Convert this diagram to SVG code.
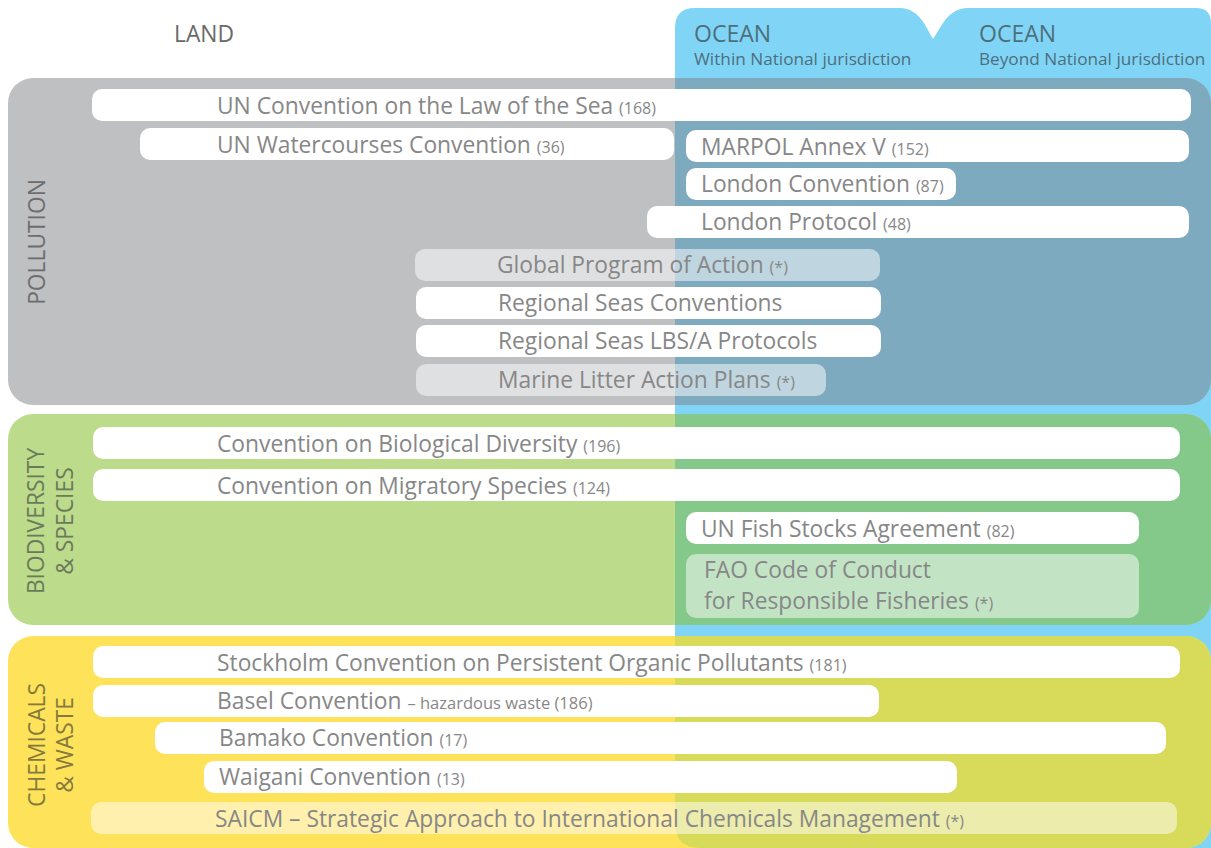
<svg xmlns="http://www.w3.org/2000/svg" width="1211" height="848" viewBox="0 0 1211 848">
<defs>
<style>
text{font-family:"Open Sans","Liberation Sans",sans-serif}
.t{font-size:22.8px;fill:#878787}
.s{font-size:16px;fill:#878787}
.w{fill:#ffffff}
.h{fill:#ffffff;fill-opacity:0.5}
.hd{font-size:23px;fill:#4d6f7d}
.sub{font-size:17.2px;fill:#4d6f7d}
.v{font-size:22.8px}
</style>
<clipPath id="oc"><path d="M675 28 Q675 8 695 8 L900 8 Q914 8 924 23 L933 39 L943 23 Q953 8 968 8 L1196 8 Q1211 8 1211 23 L1211 848 L700 848 Q675 848 675 823 Z"/></clipPath>
</defs>
<rect width="1211" height="848" fill="#ffffff"/>
<g id="ocean">
<path d="M675 28 Q675 8 695 8 L900 8 Q914 8 924 23 L933 39 L943 23 Q953 8 968 8 L1196 8 Q1211 8 1211 23 L1211 848 L700 848 Q675 848 675 823 Z" fill="#80d5f6"/>
<text class="hd" x="694" y="42">OCEAN</text>
<text class="sub" x="694" y="65">Within National jurisdiction</text>
<text class="hd" x="979" y="42">OCEAN</text>
<text class="sub" x="979" y="65">Beyond National jurisdiction</text>
</g>
<g id="land">
<text x="174" y="42" style="font-size:22.8px;fill:#6a6a6a">LAND</text>
</g>
<g id="pollution">
<rect x="8" y="78" width="1203" height="327" rx="25" fill="#bfc0c2"/>
<rect x="8" y="78" width="1203" height="327" rx="25" fill="#7eaabf" clip-path="url(#oc)"/>
<text class="v" transform="translate(45 242) rotate(-90)" text-anchor="middle" fill="#6d6d6d">POLLUTION</text>
</g>
<g id="biodiversity">
<rect x="8" y="414" width="1203" height="211" rx="25" fill="#bcdc8c"/>
<rect x="8" y="414" width="1203" height="211" rx="25" fill="#85c98a" clip-path="url(#oc)"/>
<text class="v" transform="translate(44 521) rotate(-90)" text-anchor="middle" fill="#6b7a5a">BIODIVERSITY</text>
<text class="v" transform="translate(73 521) rotate(-90)" text-anchor="middle" fill="#6b7a5a">&amp; SPECIES</text>
</g>
<g id="chemicals">
<rect x="8" y="636" width="1203" height="212" rx="25" fill="#fee35a"/>
<rect x="8" y="636" width="1203" height="212" rx="25" fill="#d8db5a" clip-path="url(#oc)"/>
<text class="v" transform="translate(45 745) rotate(-90)" text-anchor="middle" fill="#857a3c">CHEMICALS</text>
<text class="v" transform="translate(73 745) rotate(-90)" text-anchor="middle" fill="#857a3c">&amp; WASTE</text>
</g>
<g id="unclos"><rect class="w" x="92" y="89" width="1099" height="32" rx="10"/><text class="t" x="217" y="114">UN Convention on the Law of the Sea <tspan class="s">(168)</tspan></text></g>
<g id="watercourses"><rect class="w" x="140" y="128" width="534" height="32" rx="10"/><text class="t" x="217" y="153">UN Watercourses Convention <tspan class="s">(36)</tspan></text></g>
<g id="marpol"><rect class="w" x="686" y="130" width="503" height="32" rx="10"/><text class="t" x="701" y="155">MARPOL Annex V <tspan class="s">(152)</tspan></text></g>
<g id="london-convention"><rect class="w" x="686" y="168" width="270" height="32" rx="10"/><text class="t" x="701" y="192">London Convention <tspan class="s">(87)</tspan></text></g>
<g id="london-protocol"><rect class="w" x="647" y="206" width="542" height="32" rx="10"/><text class="t" x="701" y="230">London Protocol <tspan class="s">(48)</tspan></text></g>
<g id="gpa"><rect class="h" x="415" y="249" width="465" height="32" rx="10"/><text class="t" x="497" y="273">Global Program of Action <tspan class="s">(*)</tspan></text></g>
<g id="regional-seas"><rect class="w" x="416" y="287" width="465" height="32" rx="10"/><text class="t" x="498" y="311">Regional Seas Conventions</text></g>
<g id="lbs-protocols"><rect class="w" x="416" y="325" width="465" height="32" rx="10"/><text class="t" x="498" y="349">Regional Seas LBS/A Protocols</text></g>
<g id="marine-litter"><rect class="h" x="416" y="364" width="410" height="32" rx="10"/><text class="t" x="498" y="388">Marine Litter Action Plans <tspan class="s">(*)</tspan></text></g>
<g id="cbd"><rect class="w" x="93" y="427" width="1087" height="32" rx="10"/><text class="t" x="217" y="452">Convention on Biological Diversity <tspan class="s">(196)</tspan></text></g>
<g id="cms"><rect class="w" x="93" y="469" width="1087" height="32" rx="10"/><text class="t" x="217" y="494">Convention on Migratory Species <tspan class="s">(124)</tspan></text></g>
<g id="fish-stocks"><rect class="w" x="686" y="512" width="453" height="32" rx="10"/><text class="t" x="701" y="537">UN Fish Stocks Agreement <tspan class="s">(82)</tspan></text></g>
<g id="fao"><rect class="h" x="686" y="554" width="453" height="64" rx="10"/><text class="t" x="704" y="578">FAO Code of Conduct</text><text class="t" x="704" y="609">for Responsible Fisheries <tspan class="s">(*)</tspan></text></g>
<g id="stockholm"><rect class="w" x="93" y="646" width="1087" height="32" rx="10"/><text class="t" x="217" y="671">Stockholm Convention on Persistent Organic Pollutants <tspan class="s">(181)</tspan></text></g>
<g id="basel"><rect class="w" x="93" y="685" width="786" height="32" rx="10"/><text class="t" x="217" y="709">Basel Convention <tspan style="font-size:16.5px">– hazardous waste (186)</tspan></text></g>
<g id="bamako"><rect class="w" x="155" y="722" width="1011" height="32" rx="10"/><text class="t" x="219" y="746">Bamako Convention <tspan class="s">(17)</tspan></text></g>
<g id="waigani"><rect class="w" x="204" y="761" width="753" height="32" rx="10"/><text class="t" x="219" y="785">Waigani Convention <tspan class="s">(13)</tspan></text></g>
<g id="saicm"><rect class="h" x="91" y="802" width="1086" height="32" rx="10"/><text class="t" x="215" y="827">SAICM – Strategic Approach to International Chemicals Management <tspan class="s">(*)</tspan></text></g>
</svg>
